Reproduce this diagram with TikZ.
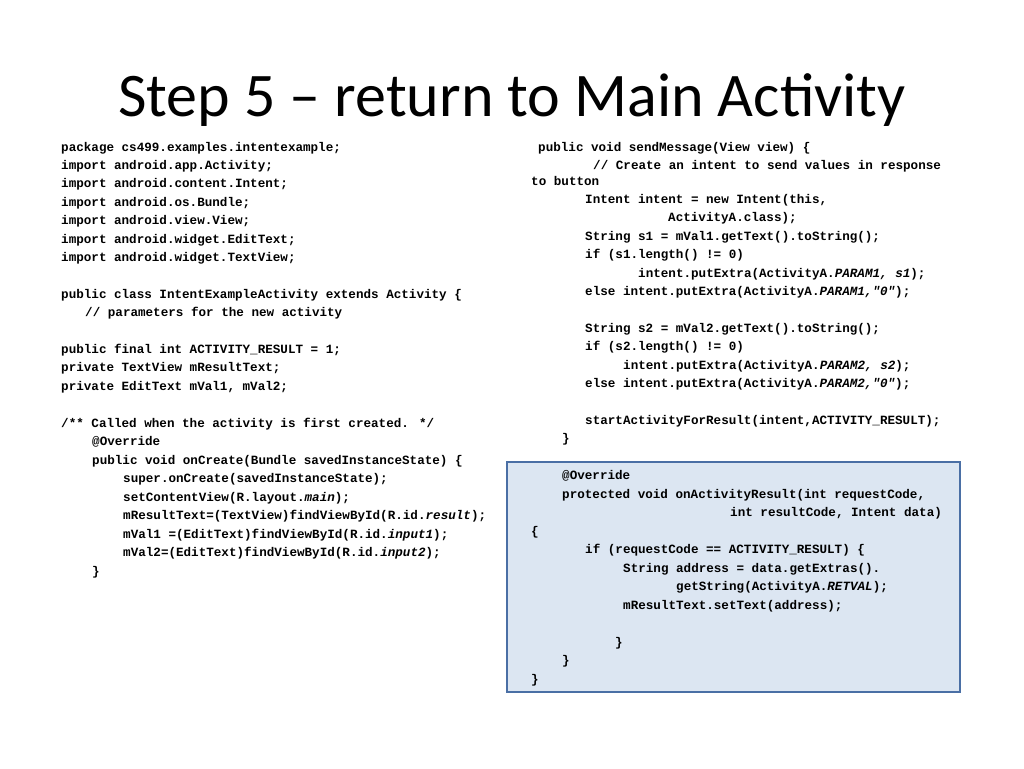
\documentclass[tikz,border=0pt]{standalone}
\usepackage{fontspec}
\setmainfont{Carlito}
\newfontfamily\codefont{Liberation Mono}
\definecolor{boxfill}{HTML}{DCE6F2}
\definecolor{boxline}{HTML}{4A6FA5}
\tikzset{code/.style={anchor=mid west,inner sep=0pt,font=\codefont\bfseries\fontsize{12.6}{14}\selectfont}}
\newcommand{\cl}[4]{\node[code] (#1) at (#2pt,-#3pt) {#4};}
\begin{document}
\begin{tikzpicture}[x=1pt,y=1pt]
\useasboundingbox (0,0) rectangle (1024,-768);
\fill[white] (0,0) rectangle (1024,-768);
\node[font=\fontsize{62}{70}\selectfont] (title) at (512,-100) {Step 5 -- return to Main Activity};
\node[draw=boxline,line width=1.5pt,fill=boxfill,minimum width=453pt,minimum height=230pt,anchor=north west,inner sep=0pt] (box) at (506,-461) {};
\cl{l1}{61}{149}{package cs499.examples.intentexample;}
\cl{l2}{61}{167}{import android.app.Activity;}
\cl{l3}{61}{185.5}{import android.content.Intent;}
\cl{l4}{61}{204}{import android.os.Bundle;}
\cl{l5}{61}{222.5}{import android.view.View;}
\cl{l6}{61}{241}{import android.widget.EditText;}
\cl{l7}{61}{259.5}{import android.widget.TextView;}
\cl{l8}{61}{296}{public class IntentExampleActivity extends Activity \{}
\cl{l9}{85}{314.5}{// parameters for the new activity}
\cl{l10}{61}{351}{public final int ACTIVITY\_RESULT = 1;}
\cl{l11}{61}{369.5}{private TextView mResultText;}
\cl{l12}{61}{388}{private EditText mVal1, mVal2;}
\cl{l13}{61}{425}{/** Called when the activity is first created. */}
\cl{l14}{92}{443.5}{@Override}
\cl{l15}{92}{462}{public void onCreate(Bundle savedInstanceState) \{}
\cl{l16}{123}{480.5}{super.onCreate(savedInstanceState);}
\cl{l17}{123}{499}{setContentView(R.layout.\textit{main});}
\cl{l18}{123}{517.5}{mResultText=(TextView)findViewById(R.id.\textit{result});}
\cl{l19}{123}{536}{mVal1 =(EditText)findViewById(R.id.\textit{input1});}
\cl{l20}{123}{554.5}{mVal2=(EditText)findViewById(R.id.\textit{input2});}
\cl{l21}{92}{573}{\}}
\cl{r1}{538}{149}{public void sendMessage(View view) \{}
\cl{r2}{593}{167}{// Create an intent to send values in response}
\cl{r3}{531}{183}{to button}
\cl{r4}{585}{201}{Intent intent = new Intent(this,}
\cl{r5}{668}{219.5}{ActivityA.class);}
\cl{r6}{585}{238}{String s1 = mVal1.getText().toString();}
\cl{r7}{585}{256.5}{if (s1.length() != 0)}
\cl{r8}{638}{275}{intent.putExtra(ActivityA.\textit{PARAM1, s1});}
\cl{r9}{585}{293.5}{else intent.putExtra(ActivityA.\textit{PARAM1,"0"});}
\cl{r10}{585}{330}{String s2 = mVal2.getText().toString();}
\cl{r11}{585}{348.5}{if (s2.length() != 0)}
\cl{r12}{623}{367}{intent.putExtra(ActivityA.\textit{PARAM2, s2});}
\cl{r13}{585}{385.5}{else intent.putExtra(ActivityA.\textit{PARAM2,"0"});}
\cl{r14}{585}{422}{startActivityForResult(intent,ACTIVITY\_RESULT);}
\cl{r15}{562}{440.5}{\}}
\cl{b1}{562}{477.5}{@Override}
\cl{b2}{562}{496}{protected void onActivityResult(int requestCode,}
\cl{b3}{730}{514.5}{int resultCode, Intent data)}
\cl{b4}{531}{533}{\{}
\cl{b5}{585}{551.5}{if (requestCode == ACTIVITY\_RESULT) \{}
\cl{b6}{623}{570}{String address = data.getExtras().}
\cl{b7}{676}{588.5}{getString(ActivityA.\textit{RETVAL});}
\cl{b8}{623}{607}{mResultText.setText(address);}
\cl{b9}{615}{644}{\}}
\cl{b10}{562}{662.5}{\}}
\cl{b11}{531}{681}{\}}
\end{tikzpicture}
\end{document}
